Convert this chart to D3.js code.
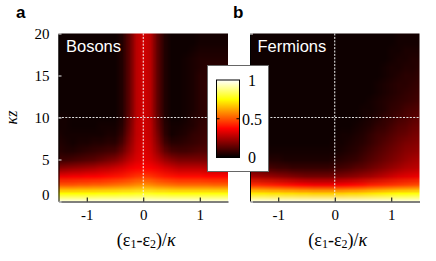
<!DOCTYPE html>
<html>
<head>
<meta charset="utf-8">
<script src="https://cdn.jsdelivr.net/npm/d3@7"></script>
<style>
body { margin: 0; background: #fff; }
.serif { font-family: "Liberation Serif", "Times New Roman", Times, serif; }
.sans { font-family: "Liberation Sans", Arial, Helvetica, sans-serif; }
</style>
</head>
<body>
<div id="chart"></div>
<script>
// detuning grid (columns) and distance grid (rows)
var xVals = [-1.5, -1.375, -1.25, -1.125, -1, -0.875, -0.75, -0.625, -0.5, -0.375, -0.25, -0.125, 0,
             0.125, 0.25, 0.375, 0.5, 0.625, 0.75, 0.875, 1, 1.125, 1.25, 1.375, 1.5];
var zVals = [0, 1, 2, 3, 4, 5, 6, 7, 8, 9, 10, 11, 12, 13, 14, 15, 16, 17, 18, 19, 20];

// correlation, one row per z
var bosons = [
  [.97,.97,.97,.97,.97,.97,.97,.97,.97,.97,.97,.97,.97,.97,.97,.97,.97,.97,.97,.97,.97,.97,.97,.97,.97],
  [.75,.75,.75,.75,.75,.75,.76,.76,.76,.77,.77,.78,.78,.78,.77,.77,.76,.76,.76,.76,.76,.76,.76,.76,.76],
  [.50,.50,.50,.51,.51,.52,.52,.53,.54,.55,.56,.58,.59,.58,.56,.55,.54,.53,.53,.53,.53,.53,.52,.52,.52],
  [.35,.35,.36,.36,.37,.37,.38,.39,.40,.41,.43,.45,.46,.45,.43,.41,.40,.39,.39,.39,.39,.38,.38,.38,.38],
  [.20,.21,.22,.23,.24,.25,.27,.28,.30,.32,.35,.37,.38,.37,.35,.32,.30,.28,.28,.28,.28,.27,.27,.27,.27],
  [.09,.09,.10,.11,.12,.13,.15,.17,.19,.23,.28,.32,.34,.32,.28,.23,.20,.18,.18,.18,.18,.18,.18,.17,.17],
  [.06,.05,.05,.06,.07,.08,.09,.10,.11,.16,.23,.30,.33,.30,.23,.15,.11,.10,.10,.11,.12,.12,.12,.12,.12],
  [.05,.04,.03,.04,.04,.05,.05,.06,.06,.11,.20,.29,.32,.29,.20,.10,.06,.06,.07,.08,.09,.10,.10,.10,.10],
  [.04,.03,.03,.03,.03,.03,.03,.04,.04,.08,.18,.28,.31,.28,.18,.07,.03,.04,.05,.07,.08,.09,.09,.09,.09],
  [.03,.03,.02,.02,.02,.02,.03,.03,.03,.06,.16,.28,.31,.28,.16,.06,.03,.03,.04,.05,.07,.08,.08,.08,.08],
  [.03,.03,.02,.02,.02,.02,.02,.02,.02,.05,.15,.27,.31,.27,.15,.05,.02,.02,.03,.05,.06,.07,.07,.07,.07],
  [.02,.02,.02,.02,.02,.02,.02,.02,.02,.05,.14,.27,.31,.27,.14,.05,.02,.02,.03,.04,.06,.07,.07,.07,.07],
  [.02,.02,.02,.02,.02,.02,.02,.02,.02,.05,.14,.27,.31,.27,.14,.05,.02,.02,.03,.04,.06,.07,.07,.07,.07],
  [.02,.02,.02,.02,.02,.02,.02,.02,.02,.05,.14,.27,.31,.27,.14,.05,.02,.02,.03,.04,.06,.07,.07,.07,.07],
  [.02,.02,.02,.02,.02,.02,.02,.02,.02,.05,.14,.27,.31,.27,.14,.05,.02,.02,.03,.04,.06,.07,.07,.07,.07],
  [.02,.02,.02,.02,.02,.02,.02,.02,.02,.05,.14,.27,.31,.27,.14,.05,.02,.02,.03,.04,.06,.06,.06,.06,.06],
  [.02,.02,.02,.02,.02,.02,.02,.02,.02,.05,.14,.27,.31,.27,.14,.05,.02,.02,.03,.04,.05,.06,.06,.06,.06],
  [.02,.02,.02,.02,.02,.02,.02,.02,.02,.05,.14,.27,.31,.27,.14,.05,.02,.02,.03,.04,.05,.05,.05,.05,.05],
  [.02,.02,.02,.02,.02,.02,.02,.02,.02,.05,.14,.27,.31,.27,.14,.05,.02,.02,.02,.03,.04,.04,.04,.04,.04],
  [.02,.02,.02,.02,.02,.02,.02,.02,.02,.05,.14,.27,.31,.27,.14,.05,.02,.02,.02,.02,.03,.03,.03,.03,.03],
  [.02,.02,.02,.02,.02,.02,.02,.02,.02,.05,.14,.27,.31,.27,.14,.05,.02,.02,.02,.02,.03,.03,.03,.03,.03]
];

// correlation, one row per z
var fermions = [
  [.97,.97,.97,.97,.97,.97,.97,.97,.97,.97,.97,.97,.97,.97,.97,.97,.97,.97,.97,.97,.97,.97,.97,.97,.97],
  [.72,.72,.72,.71,.71,.70,.70,.69,.69,.68,.68,.68,.68,.68,.69,.69,.70,.71,.72,.73,.74,.75,.75,.76,.76],
  [.44,.44,.43,.42,.41,.40,.39,.38,.37,.36,.36,.36,.36,.37,.38,.39,.40,.42,.43,.44,.45,.46,.47,.48,.49],
  [.25,.24,.23,.22,.21,.20,.19,.18,.17,.17,.17,.17,.18,.19,.20,.21,.23,.24,.26,.28,.30,.32,.33,.34,.35],
  [.12,.12,.11,.10,.09,.09,.08,.08,.08,.08,.08,.08,.09,.10,.11,.13,.14,.16,.18,.20,.22,.24,.26,.27,.28],
  [.07,.06,.06,.05,.05,.04,.04,.04,.04,.04,.04,.04,.05,.06,.07,.08,.10,.12,.14,.16,.18,.20,.22,.24,.25],
  [.04,.04,.03,.03,.03,.03,.03,.03,.03,.03,.03,.03,.03,.04,.05,.06,.08,.10,.12,.14,.16,.18,.20,.21,.22],
  [.03,.03,.03,.02,.02,.02,.02,.02,.02,.02,.02,.02,.03,.03,.04,.05,.06,.08,.10,.12,.14,.16,.18,.19,.20],
  [.02,.02,.02,.02,.02,.02,.02,.02,.02,.02,.02,.02,.02,.03,.03,.04,.05,.07,.09,.10,.12,.14,.15,.17,.18],
  [.02,.02,.02,.02,.02,.02,.02,.02,.02,.02,.02,.02,.02,.02,.02,.03,.04,.05,.07,.08,.10,.12,.13,.15,.16],
  [.02,.02,.02,.02,.02,.02,.02,.02,.02,.02,.02,.02,.02,.02,.02,.02,.03,.04,.05,.07,.08,.10,.11,.13,.14],
  [.02,.02,.02,.02,.02,.02,.02,.02,.02,.02,.02,.02,.02,.02,.02,.02,.03,.03,.04,.05,.07,.08,.10,.11,.12],
  [.02,.02,.02,.02,.02,.02,.02,.02,.02,.02,.02,.02,.02,.02,.02,.02,.02,.03,.04,.05,.06,.07,.08,.09,.10],
  [.02,.02,.02,.02,.02,.02,.02,.02,.02,.02,.02,.02,.02,.02,.02,.02,.02,.02,.03,.04,.05,.06,.07,.08,.09],
  [.02,.02,.02,.02,.02,.02,.02,.02,.02,.02,.02,.02,.02,.02,.02,.02,.02,.02,.03,.04,.05,.06,.06,.07,.08],
  [.02,.02,.02,.02,.02,.02,.02,.02,.02,.02,.02,.02,.02,.02,.02,.02,.02,.02,.02,.03,.04,.05,.06,.06,.07],
  [.02,.02,.02,.02,.02,.02,.02,.02,.02,.02,.02,.02,.02,.02,.02,.02,.02,.02,.02,.03,.04,.04,.05,.05,.06],
  [.02,.02,.02,.02,.02,.02,.02,.02,.02,.02,.02,.02,.02,.02,.02,.02,.02,.02,.02,.02,.03,.04,.04,.05,.05],
  [.02,.02,.02,.02,.02,.02,.02,.02,.02,.02,.02,.02,.02,.02,.02,.02,.02,.02,.02,.02,.03,.03,.04,.04,.04],
  [.02,.02,.02,.02,.02,.02,.02,.02,.02,.02,.02,.02,.02,.02,.02,.02,.02,.02,.02,.02,.02,.03,.03,.03,.03],
  [.02,.02,.02,.02,.02,.02,.02,.02,.02,.02,.02,.02,.02,.02,.02,.02,.02,.02,.02,.02,.02,.03,.03,.03,.03]
];

var xTicks = [-1, 0, 1];
var zTicks = [0, 5, 10, 15, 20];
var barTicks = [0, 0.5, 1];

// Chart params
var svgWidth = 436;
var svgHeight = 261;
var plotWidth = 169.5;
var plotTop = 33.5;
var plotBottom = 201.5;

var svg = d3.select("#chart")
    .append("svg")
    .attr("width", svgWidth)
    .attr("height", svgHeight);

var defs = svg.append("defs");

// MATLAB "hot" colormap
var hot = d3.scaleLinear()
    .domain([0, 0.375, 0.75, 1])
    .range(["#000000", "#ff0000", "#ffff00", "#ffffff"])
    .clamp(true);

var panels = [
    {letter: "a", title: "Bosons", data: bosons, left: 58.5, showZ: true},
    {letter: "b", title: "Fermions", data: fermions, left: 250, showZ: false}
];

panels.forEach(function(p, i) {
    var x = d3.scaleLinear().domain([-1.5, 1.5]).range([p.left, p.left + plotWidth]);
    var y = d3.scaleLinear().domain([0, 20]).range([plotBottom, plotTop]);

    // paint the grid into a small canvas, one pixel per cell, and let the image stretch it
    var canvas = document.createElement("canvas");
    canvas.width = xVals.length;
    canvas.height = zVals.length;
    var ctx = canvas.getContext("2d");
    p.data.forEach(function(row, zi) {
        row.forEach(function(v, xi) {
            ctx.fillStyle = hot(v);
            ctx.fillRect(xi, zVals.length - 1 - zi, 1, 1);
        });
    });

    var hx = (xVals[1] - xVals[0]) / 2;
    var hz = (zVals[1] - zVals[0]) / 2;

    defs.append("clipPath")
        .attr("id", "clip" + i)
        .append("rect")
        .attr("x", x(-1.5))
        .attr("y", y(20))
        .attr("width", x(1.5) - x(-1.5))
        .attr("height", y(0) - y(20));

    var g = svg.append("g");

    g.append("image")
        .attr("href", canvas.toDataURL())
        .attr("x", x(xVals[0] - hx))
        .attr("y", y(zVals[zVals.length - 1] + hz))
        .attr("width", x(xVals[xVals.length - 1] + hx) - x(xVals[0] - hx))
        .attr("height", y(zVals[0] - hz) - y(zVals[zVals.length - 1] + hz))
        .attr("preserveAspectRatio", "none")
        .attr("clip-path", "url(#clip" + i + ")");

    // dotted guides at zero detuning and kz = 10
    g.append("line")
        .attr("x1", x(0)).attr("x2", x(0))
        .attr("y1", y(20)).attr("y2", y(0))
        .attr("stroke", "#f4f4f4")
        .attr("stroke-width", 1)
        .attr("stroke-dasharray", "2,1.4");
    g.append("line")
        .attr("x1", x(-1.5)).attr("x2", x(1.5))
        .attr("y1", y(10)).attr("y2", y(10))
        .attr("stroke", "#e0e0e0")
        .attr("stroke-width", 1)
        .attr("stroke-dasharray", "2,1.4");

    // axes, ticks pointing inward
    var bottomAxis = d3.axisBottom(x)
        .tickValues(xTicks)
        .tickSizeInner(-4)
        .tickSizeOuter(0)
        .tickPadding(7.4)
        .tickFormat(function(d) { return String(d); });

    var leftAxis = d3.axisLeft(y)
        .tickValues(zTicks)
        .tickSizeInner(-3)
        .tickSizeOuter(0)
        .tickPadding(9)
        .tickFormat(function(d) { return p.showZ ? String(d) : ""; });

    var xa = g.append("g")
        .attr("transform", "translate(0," + plotBottom + ")")
        .call(bottomAxis)
        .attr("font-family", null);
    xa.selectAll("text").attr("class", "serif").attr("font-size", 15).attr("fill", "#000");
    xa.selectAll("line").attr("stroke", "#000");
    xa.select(".domain").attr("stroke", "#000");

    var ya = g.append("g")
        .attr("transform", "translate(" + p.left + ",0)")
        .call(leftAxis)
        .attr("font-family", null);
    ya.selectAll("text").attr("class", "serif").attr("font-size", 15).attr("fill", "#000");
    ya.selectAll("text").filter(function(d) { return d === 0; }).attr("dy", "-0.12em");
    ya.selectAll("line").attr("stroke", "#eee");
    ya.select(".domain").attr("stroke", "#000");

    // panel letter and title
    svg.append("text")
        .attr("class", "sans")
        .attr("x", i === 0 ? 16 : 233)
        .attr("y", 17.5)
        .attr("font-weight", "bold")
        .attr("font-size", 17)
        .text(p.letter);

    g.append("text")
        .attr("class", "sans")
        .attr("x", x(-1.5) + 7.5)
        .attr("y", 51.5)
        .attr("font-size", 16.5)
        .attr("fill", "#fff")
        .text(p.title);

    // x label (ε1-ε2)/κ
    var xl = g.append("text")
        .attr("class", "serif")
        .attr("x", x(0) + 3)
        .attr("y", 246)
        .attr("text-anchor", "middle")
        .attr("font-size", 18);
    xl.append("tspan").text("(ε");
    xl.append("tspan").attr("font-size", 12).attr("dy", 1.5).text("1");
    xl.append("tspan").attr("dy", -1.5).text("-ε");
    xl.append("tspan").attr("font-size", 12).attr("dy", 1.5).text("2");
    xl.append("tspan").attr("dy", -1.5).text(")/");
    xl.append("tspan").attr("font-style", "italic").text("κ");

    if (p.showZ) {
        g.append("text")
            .attr("class", "serif")
            .attr("transform", "translate(17," + y(10) + ") rotate(-90)")
            .attr("text-anchor", "middle")
            .attr("font-style", "italic")
            .attr("font-size", 16)
            .text("κz");
    }
});

// colorbar in its white box between the panels
var grad = defs.append("linearGradient")
    .attr("id", "hotGrad")
    .attr("x1", 0).attr("y1", 1)
    .attr("x2", 0).attr("y2", 0);
hot.domain().forEach(function(d) {
    grad.append("stop").attr("offset", d).attr("stop-color", hot(d));
});

svg.append("rect")
    .attr("x", 207.5).attr("y", 65.5)
    .attr("width", 61).attr("height", 106)
    .attr("fill", "#fff")
    .attr("stroke", "#666");

var cy = d3.scaleLinear().domain([0, 1]).range([157.5, 80]);

svg.append("rect")
    .attr("x", 216.5).attr("y", cy(1))
    .attr("width", 23).attr("height", cy(0) - cy(1))
    .attr("fill", "url(#hotGrad)")
    .attr("stroke", "#000");

[0.5].forEach(function(d) {
    svg.append("line").attr("x1", 216.5).attr("x2", 219.5)
        .attr("y1", cy(d)).attr("y2", cy(d)).attr("stroke", "#000");
    svg.append("line").attr("x1", 236.5).attr("x2", 239.5)
        .attr("y1", cy(d)).attr("y2", cy(d)).attr("stroke", "#000");
});

svg.selectAll(".cblabel")
    .data(barTicks)
    .enter()
    .append("text")
    .attr("class", "cblabel serif")
    .attr("x", 252)
    .attr("y", d => cy(d))
    .attr("dy", "0.36em")
    .attr("text-anchor", "middle")
    .attr("font-size", 16)
    .text(d => String(d));
</script>
</body>
</html>
